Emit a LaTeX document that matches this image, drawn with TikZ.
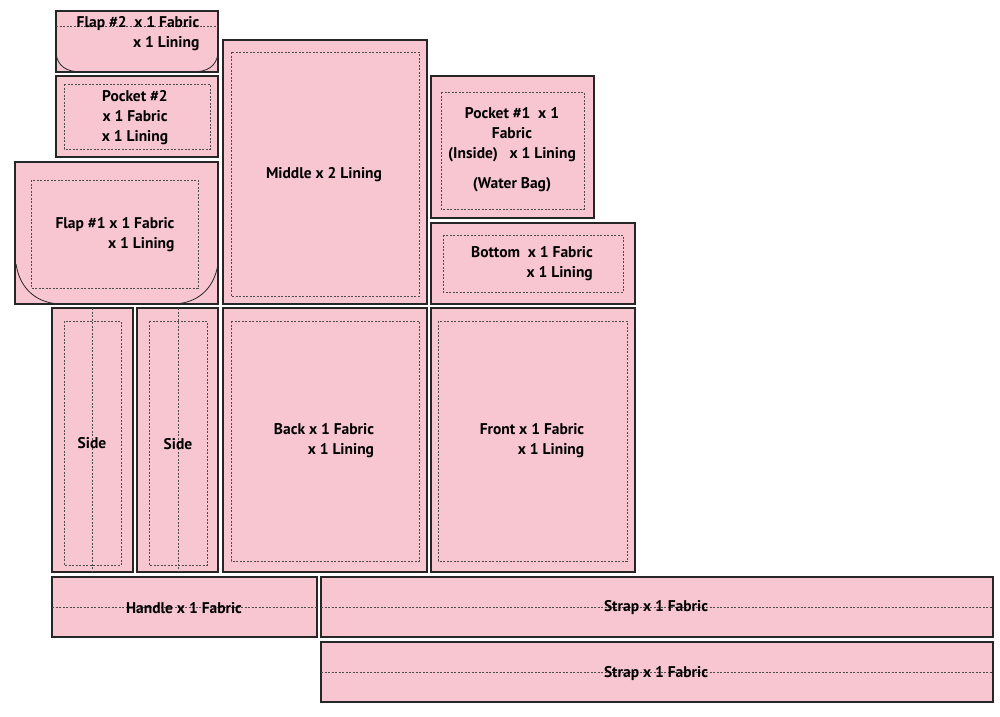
\documentclass[tikz,border=0pt]{standalone}
\usepackage{fontspec}
\setmainfont{PT Sans}
\begin{document}
\begin{tikzpicture}[x=1pt,y=-1pt,
 piece/.style={draw=black!85,line width=1.2pt,fill=pinkf},
 seam/.style={draw=black!70,dashed,line width=0.6pt,dash pattern=on 2pt off 1.5pt},
 curve/.style={draw=black!85,line width=0.8pt},
 lab/.style={font=\bfseries\fontsize{15.5}{20}\selectfont,inner sep=0pt}]
\definecolor{pinkf}{RGB}{248,198,208}
\useasboundingbox (0,0) rectangle (1000,716);
% Flap 2
\path[piece] (56,11) rectangle (218,72);
\draw[curve] (56,54) .. controls (58,66) and (66,72) .. (82,72) -- (192,72) .. controls (208,72) and (216,66) .. (218,54);
\coordinate (f2l) at (56,26); \coordinate (f2r) at (218,26);
\draw[seam] (f2l) -- (f2r);
\node[lab,align=right] (flap2) at (138,34) {Flap \#2\enspace x 1 Fabric\\x 1 Lining};
% Pocket 2
\path[piece] (56,76) rectangle (218,157);
\draw[seam] (64,84) rectangle (210,149);
\node[lab,align=center] (pocket2) at (135,118) {Pocket \#2\\x 1 Fabric\\x 1 Lining};
% Flap 1
\path[piece] (15,162) rectangle (218,304);
\draw[curve] (16,264) .. controls (20,290) and (38,304) .. (62,304) -- (172,304) .. controls (196,304) and (214,290) .. (218,264);
\draw[seam] (31,180) rectangle (198,288);
\node[lab,align=right] (flap1) at (115,235) {Flap \#1 x 1 Fabric\\x 1 Lining};
% Middle
\path[piece] (223,40) rectangle (427,304);
\draw[seam] (231,52) rectangle (419,296);
\node[lab] (middle) at (324,175) {Middle x 2 Lining};
% Pocket 1
\path[piece] (431,76) rectangle (594,218);
\draw[seam] (441,92) rectangle (584,209);
\node[lab,align=center] (pocket1) at (512,150) {Pocket \#1\enspace x 1\\Fabric\\(Inside)\enspace\ x 1 Lining\\[10pt](Water Bag)};
% Bottom
\path[piece] (431,223) rectangle (635,304);
\draw[seam] (443,235) rectangle (623,292);
\node[lab,align=right] (bottom) at (532,264) {Bottom\enspace x 1 Fabric\\x 1 Lining};
% Sides
\path[piece] (52,308) rectangle (133,572);
\draw[seam] (64,321) rectangle (121,565);
\draw[seam] (92,308) -- (92,572);
\node[lab] (side1) at (92,443) {Side};
\path[piece] (137,308) rectangle (218,572);
\draw[seam] (149,321) rectangle (207,565);
\draw[seam] (178,308) -- (178,572);
\node[lab] (side2) at (178,444) {Side};
% Back
\path[piece] (223,308) rectangle (427,572);
\draw[seam] (231,321) rectangle (419,561);
\node[lab,align=right] (back) at (324,441) {Back x 1 Fabric\\x 1 Lining};
% Front
\path[piece] (431,308) rectangle (635,572);
\draw[seam] (438,321) rectangle (627,561);
\node[lab,align=right] (front) at (532,441) {Front x 1 Fabric\\x 1 Lining};
% Handle
\path[piece] (52,577) rectangle (317,637);
\draw[seam] (52,607) -- (317,607);
\node[lab] (handle) at (184,608) {Handle x 1 Fabric};
% Straps
\path[piece] (321,577) rectangle (993,637);
\draw[seam] (321,607) -- (993,607);
\node[lab] (strap1) at (656,608) {Strap x 1 Fabric};
\path[piece] (321,642) rectangle (993,702);
\draw[seam] (321,672) -- (993,672);
\node[lab] (strap2) at (656,674) {Strap x 1 Fabric};
\end{tikzpicture}
\end{document}
